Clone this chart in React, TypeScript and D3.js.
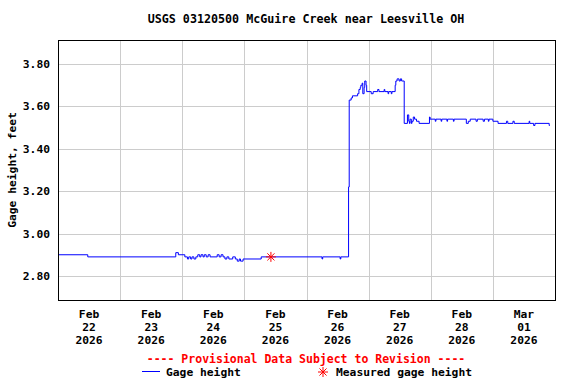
import React from "react";
import * as d3 from "d3";

const title = "USGS 03120500 McGuire Creek near Leesville OH";
const yLabel = "Gage height, feet";
const yTicks = [2.8, 3.0, 3.2, 3.4, 3.6, 3.8];
const xTickDays = ["2026-02-22", "2026-02-23", "2026-02-24", "2026-02-25", "2026-02-26", "2026-02-27", "2026-02-28", "2026-03-01"];
const xTickMonth = ["Feb", "Feb", "Feb", "Feb", "Feb", "Feb", "Feb", "Mar"];
const xTickDay = ["22", "23", "24", "25", "26", "27", "28", "01"];
const xTickYear = ["2026", "2026", "2026", "2026", "2026", "2026", "2026", "2026"];

const gageTimes = [
  "2026-02-22T00:00", "2026-02-22T11:30", "2026-02-23T21:30", "2026-02-23T22:30",
  "2026-02-24T01:00", "2026-02-24T02:00", "2026-02-24T02:30", "2026-02-24T03:15",
  "2026-02-24T03:45", "2026-02-24T04:30", "2026-02-24T05:15", "2026-02-24T06:00",
  "2026-02-24T06:45", "2026-02-24T07:15", "2026-02-24T08:00", "2026-02-24T08:30",
  "2026-02-24T09:15", "2026-02-24T10:00", "2026-02-24T10:45", "2026-02-24T13:30",
  "2026-02-24T14:15", "2026-02-24T15:00", "2026-02-24T15:45", "2026-02-24T16:30",
  "2026-02-24T17:15", "2026-02-24T18:00", "2026-02-24T19:30", "2026-02-24T20:30",
  "2026-02-24T21:15", "2026-02-24T22:00", "2026-02-24T22:30", "2026-02-24T23:30",
  "2026-02-25T06:30", "2026-02-26T06:00", "2026-02-26T06:15", "2026-02-26T13:00",
  "2026-02-26T13:15", "2026-02-26T16:15", "2026-02-26T16:30", "2026-02-26T17:15",
  "2026-02-26T17:45", "2026-02-26T19:45", "2026-02-26T20:15", "2026-02-26T20:45",
  "2026-02-26T21:00", "2026-02-26T21:30", "2026-02-26T21:45", "2026-02-26T22:15",
  "2026-02-26T22:30", "2026-02-26T23:00", "2026-02-26T23:15", "2026-02-27T01:00",
  "2026-02-27T01:45", "2026-02-27T03:30", "2026-02-27T04:00", "2026-02-27T06:00",
  "2026-02-27T06:15", "2026-02-27T07:30", "2026-02-27T07:45", "2026-02-27T08:45",
  "2026-02-27T09:00", "2026-02-27T10:15", "2026-02-27T10:30", "2026-02-27T11:00",
  "2026-02-27T11:45", "2026-02-27T12:15", "2026-02-27T12:45", "2026-02-27T13:45",
  "2026-02-27T15:00", "2026-02-27T15:30", "2026-02-27T15:45", "2026-02-27T16:00",
  "2026-02-27T16:30", "2026-02-27T16:45", "2026-02-27T17:15", "2026-02-27T17:45",
  "2026-02-27T18:30", "2026-02-27T19:30", "2026-02-27T23:30", "2026-02-27T23:45",
  "2026-02-28T01:45", "2026-02-28T02:00", "2026-02-28T04:00", "2026-02-28T04:15",
  "2026-02-28T06:15", "2026-02-28T06:30", "2026-02-28T08:45", "2026-02-28T09:00",
  "2026-02-28T13:45", "2026-02-28T14:30", "2026-02-28T15:15", "2026-02-28T17:30",
  "2026-02-28T18:00", "2026-02-28T20:15", "2026-02-28T20:45", "2026-02-28T22:15",
  "2026-02-28T22:30", "2026-03-01T00:00", "2026-03-01T02:00", "2026-03-01T05:15",
  "2026-03-01T05:45", "2026-03-01T07:45", "2026-03-01T08:15", "2026-03-01T14:00",
  "2026-03-01T14:15", "2026-03-01T15:45", "2026-03-01T16:15", "2026-03-01T21:45",
  "2026-03-01T22:00",
];
const gageValues = [
  2.90, 2.89, 2.91, 2.90,
  2.89, 2.88, 2.89, 2.88,
  2.89, 2.88, 2.89, 2.90,
  2.89, 2.90, 2.89, 2.90,
  2.89, 2.90, 2.89, 2.90,
  2.89, 2.90, 2.89, 2.88,
  2.89, 2.88, 2.89, 2.88,
  2.87, 2.88, 2.87, 2.88,
  2.89, 2.88, 2.89, 2.88,
  2.89, 3.22, 3.63, 3.64,
  3.65, 3.66, 3.68, 3.69,
  3.70, 3.71, 3.66, 3.69,
  3.72, 3.70, 3.67, 3.66,
  3.67, 3.68, 3.67, 3.68,
  3.67, 3.66, 3.67, 3.66,
  3.67, 3.70, 3.72, 3.73,
  3.72, 3.73, 3.72, 3.52,
  3.56, 3.53, 3.52, 3.54,
  3.52, 3.53, 3.55, 3.54,
  3.53, 3.52, 3.55, 3.54,
  3.53, 3.54, 3.53, 3.54,
  3.53, 3.54, 3.53, 3.54,
  3.52, 3.53, 3.54, 3.53,
  3.54, 3.53, 3.54, 3.53,
  3.54, 3.53, 3.52, 3.53,
  3.52, 3.53, 3.52, 3.53,
  3.52, 3.51, 3.52, 3.51,
  3.51,
];
const measuredTimes = ["2026-02-25T10:15"];
const measuredValues = [2.89];

const W = 576;
const H = 384;
const M = { left: 58, right: 555, top: 40, bottom: 300 };
const FONT = "'DejaVu Sans Mono', monospace";

export default function App() {
  const parse = d3.timeParse("%Y-%m-%dT%H:%M");
  const parseDay = d3.timeParse("%Y-%m-%d");
  const x = d3
    .scaleTime()
    .domain([parseDay("2026-02-22") as Date, parseDay("2026-03-02") as Date])
    .range([M.left, M.right]);
  const y = d3.scaleLinear().domain([2.6865, 3.9135]).range([M.bottom, M.top]);

  const series = gageTimes.map((t, i) => ({ t: parse(t) as Date, v: gageValues[i] }));
  const line = d3
    .line<{ t: Date; v: number }>()
    .x((d) => x(d.t))
    .y((d) => y(d.v))
    .curve(d3.curveStepAfter);

  const gridDays = d3.timeDay.range(parseDay("2026-02-23") as Date, parseDay("2026-03-02") as Date);
  const measured = measuredTimes.map((t, i) => ({ t: parse(t) as Date, v: measuredValues[i] }));

  const star = (cx: number, cy: number, r: number, color: string, key: string) => (
    <g key={key} stroke={color} strokeWidth={1}>
      {[0, 45, 90, 135].map((a) => {
        const rad = (a * Math.PI) / 180;
        const dx = Math.cos(rad) * r;
        const dy = Math.sin(rad) * r;
        return <line key={a} x1={cx - dx} y1={cy - dy} x2={cx + dx} y2={cy + dy} />;
      })}
    </g>
  );

  return (
    <svg
      width={W}
      height={H}
      style={{ position: "absolute", left: 0, top: 0, background: "#fff" }}
      fontFamily={FONT}
      fontWeight="bold"
    >
      <rect x={0} y={0} width={W} height={H} fill="#fff" />
      <text x={306} y={23} textAnchor="middle" fontSize={11.7} fill="#000">
        {title}
      </text>
      {/* grid */}
      {yTicks.map((v) => (
        <line
          key={v}
          x1={M.left}
          x2={M.right}
          y1={Math.round(y(v)) + 0.5}
          y2={Math.round(y(v)) + 0.5}
          stroke="#cccccc"
          strokeWidth={1}
        />
      ))}
      {gridDays.map((d) => (
        <line
          key={+d}
          x1={Math.round(x(d)) + 0.5}
          x2={Math.round(x(d)) + 0.5}
          y1={M.top}
          y2={M.bottom}
          stroke="#cccccc"
          strokeWidth={1}
        />
      ))}
      {/* data */}
      <path d={line(series) || ""} fill="none" stroke="#0000ff" strokeWidth={1} />
      {measured.map((m, i) => star(x(m.t), y(m.v), 5, "#ff0000", "m" + i))}
      {/* frame */}
      <rect
        x={M.left + 0.5}
        y={M.top + 0.5}
        width={M.right - M.left}
        height={M.bottom - M.top}
        fill="none"
        stroke="#000"
        strokeWidth={1}
      />
      {/* y tick labels */}
      {yTicks.map((v) => (
        <text key={v} x={50} y={y(v) + 4} textAnchor="end" fontSize={11.3} fill="#000">
          {d3.format(".2f")(v)}
        </text>
      ))}
      <text
        transform={`translate(16,${(M.top + M.bottom) / 2}) rotate(-90)`}
        textAnchor="middle"
        fontSize={11.3}
        fill="#000"
      >
        {yLabel}
      </text>
      {/* x tick labels */}
      {xTickDays.map((d, i) => {
        const cx = x(d3.timeHour.offset(parseDay(d) as Date, 12));
        return (
          <g key={d} fontSize={11.3} fill="#000" textAnchor="middle">
            <text x={cx} y={318}>{xTickMonth[i]}</text>
            <text x={cx} y={331}>{xTickDay[i]}</text>
            <text x={cx} y={344}>{xTickYear[i]}</text>
          </g>
        );
      })}
      <text x={306} y={363} textAnchor="middle" fontSize={11.5} fill="#ff0000">
        ---- Provisional Data Subject to Revision ----
      </text>
      <line x1={142} x2={160} y1={371.5} y2={371.5} stroke="#0000ff" strokeWidth={1} />
      <text x={166} y={376} fontSize={11.3} fill="#000">
        Gage height
      </text>
      {star(323, 372, 5, "#ff0000", "legstar")}
      <text x={336} y={376} fontSize={11.3} fill="#000">
        Measured gage height
      </text>
    </svg>
  );
}
